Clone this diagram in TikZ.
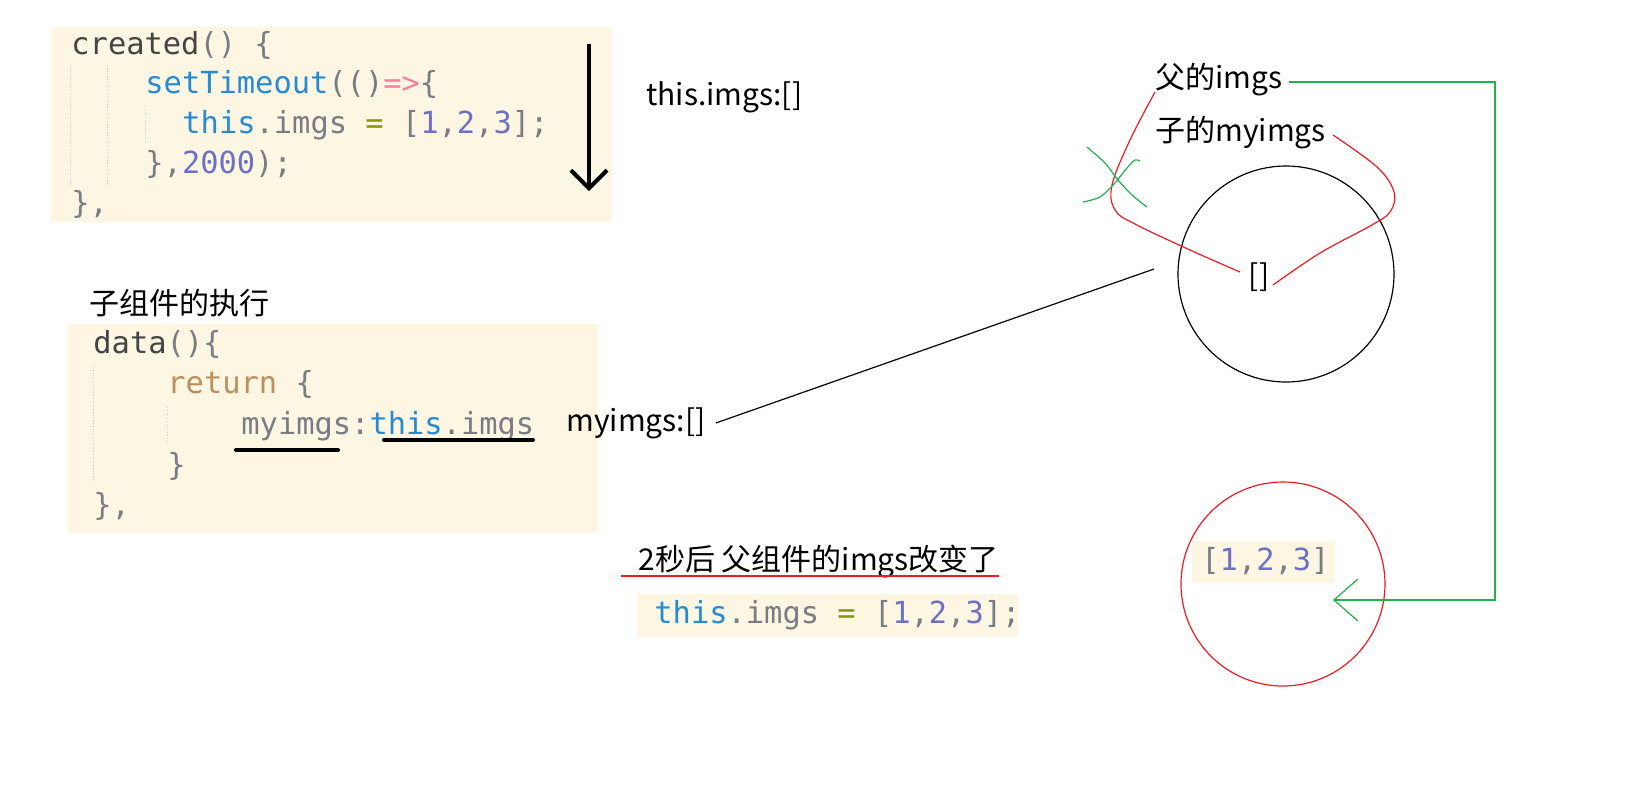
\documentclass[tikz,border=0pt]{standalone}
\usepackage{fontspec}
\usetikzlibrary{arrows.meta}
\newfontfamily\cjk{Noto Sans CJK SC}
\newfontfamily\codefont{DejaVu Sans Mono}
\definecolor{codebg}{HTML}{FDF6E3}
\definecolor{kwblue}{HTML}{268BD2}
\definecolor{numblue}{HTML}{6C71C4}
\definecolor{puncgray}{HTML}{7B7B84}
\definecolor{darktext}{HTML}{444444}
\definecolor{oppink}{HTML}{F77FA0}
\definecolor{olive}{HTML}{859900}
\definecolor{rettan}{HTML}{BD8F5A}
\definecolor{penred}{HTML}{ED1C24}
\definecolor{pengreen}{HTML}{22B14C}
\definecolor{guidegray}{HTML}{D8D2C0}
\newcommand{\ckw}[1]{\textcolor{kwblue}{#1}}
\newcommand{\cnum}[1]{\textcolor{numblue}{#1}}
\newcommand{\cpun}[1]{\textcolor{puncgray}{#1}}
\newcommand{\cop}[1]{\textcolor{oppink}{#1}}
\newcommand{\cret}[1]{\textcolor{rettan}{#1}}
\tikzset{
  codeline/.style={font=\codefont\fontsize{15.2}{18}\selectfont, anchor=base west, inner sep=0pt},
  note/.style={font=\cjk\fontsize{15}{18}\selectfont, anchor=west, inner sep=0pt},
  codebox/.style={fill=codebg, draw=none},
  guide/.style={draw=guidegray, densely dotted, line width=0.4pt},
  pen/.style={line width=0.6pt},
  fat/.style={line width=2pt, line cap=round},
}
\begin{document}
\begin{tikzpicture}[x=0.5pt,y=-0.5pt]
  \useasboundingbox (0,0) rectangle (1640,800);
  \fill[white] (0,0) rectangle (1640,800);

  % code: created()
  \fill[codebox] (51,27) rectangle (612,222);
  \draw[guide] (70,65) -- (70,186);
  \draw[guide] (107,65) -- (107,186);
  \draw[guide] (145,106) -- (145,143);
  \node[codeline] (c1) at (71,54) {\textcolor{darktext}{created}\cpun{()}\ \cpun{\{}};
  \node[codeline] (c2) at (145,93) {\ckw{setTimeout}\cpun{(()}\cop{=>}\cpun{\{}};
  \node[codeline] (c3) at (182,133) {\ckw{this}\cpun{.imgs}\ \textcolor{olive}{=}\ \cpun{[}\cnum{1}\cpun{,}\cnum{2}\cpun{,}\cnum{3}\cpun{];}};
  \node[codeline] (c4) at (145,173) {\cpun{\},}\cnum{2000}\cpun{);}};
  \node[codeline] (c5) at (71,213) {\cpun{\},}};
  \coordinate (arrtop) at (589,44);
  \coordinate (arrbot) at (589,191);
  \draw[line width=2pt, -{Straight Barb[length=9pt,width=18pt]}] (arrtop) -- (arrbot);

  \node[note] (before) at (646,97) {this.imgs:[]};

  % code: data()
  \node[note] (child) at (89,303) {子组件的执行};
  \fill[codebox] (67,324) rectangle (598,533);
  \draw[guide] (93,367) -- (93,482);
  \draw[guide] (167,407) -- (167,442);
  \node[codeline] (d1) at (93,353) {\textcolor{darktext}{data}\cpun{()\{}};
  \node[codeline] (d2) at (167,393) {\cret{return}\ \cpun{\{}};
  \node[codeline] (d3) at (241,434) {\cpun{myimgs:}\ckw{this}\cpun{.imgs}};
  \node[codeline] (d4) at (167,475) {\cpun{\}}};
  \node[codeline] (d5) at (93,515) {\cpun{\},}};
  \draw[fat] (236,450) -- (338,450);
  \draw[fat] (384,440) -- (533,440);

  \node[note] (myimgs) at (566,423) {myimgs:[]};
  \coordinate (lineend) at (1154,269);
  \draw[pen] ([xshift=5pt]myimgs.east) -- (lineend);

  % circles
  \node[circle, draw, pen, minimum size=108pt, inner sep=0pt] (oldref) at (1286,274) {};
  \node[note, anchor=center] (empty) at (1259,277) {[]};
  \node[note] (fuimgs) at (1155,80) {父的imgs};
  \node[note] (zimgs) at (1155,133) {子的myimgs};

  \draw[pen, penred] plot[smooth, tension=0.6] coordinates
    {(1155,92) (1130,140) (1112,185) (1115,210) (1135,224) (1190,250) (1240,272)};
  \draw[pen, penred] plot[smooth, tension=0.6] coordinates
    {(1333,135) (1377,167) (1394,192) (1390,212) (1370,226) (1320,253) (1273,285)};
  \draw[pen, pengreen] plot[smooth, tension=0.5] coordinates
    {(1087,147) (1105,163) (1118,180) (1132,195) (1147,207)};
  \draw[pen, pengreen] plot[smooth, tension=0.5] coordinates
    {(1083,202) (1100,197) (1114,184) (1127,168) (1135,160) (1140,161)};

  % after 2s
  \node[note] (after) at (638,562) {2秒后 父组件的imgs改变了};
  \draw[pen, penred] (621,576) -- (999,576);
  \fill[codebox] (637,594) rectangle (1018,637);
  \node[codeline] (e1) at (654,623) {\ckw{this}\cpun{.imgs}\ \textcolor{olive}{=}\ \cpun{[}\cnum{1}\cpun{,}\cnum{2}\cpun{,}\cnum{3}\cpun{];}};

  \node[circle, draw=penred, pen, minimum size=102pt, inner sep=0pt] (newref) at (1283,584) {};
  \fill[codebox] (1192,541) rectangle (1335,583);
  \node[codeline] (f1) at (1201,570) {\cpun{[}\cnum{1}\cpun{,}\cnum{2}\cpun{,}\cnum{3}\cpun{]}};

  \coordinate (gcorner1) at (1495,82);
  \coordinate (gcorner2) at (1495,600);
  \coordinate (gtip) at (1333,600);
  \draw[pen, pengreen, -{Straight Barb[length=12pt,width=21pt]}]
    ([xshift=3pt]fuimgs.east |- gcorner1) -- (gcorner1) -- (gcorner2) -- (gtip);
\end{tikzpicture}
\end{document}
